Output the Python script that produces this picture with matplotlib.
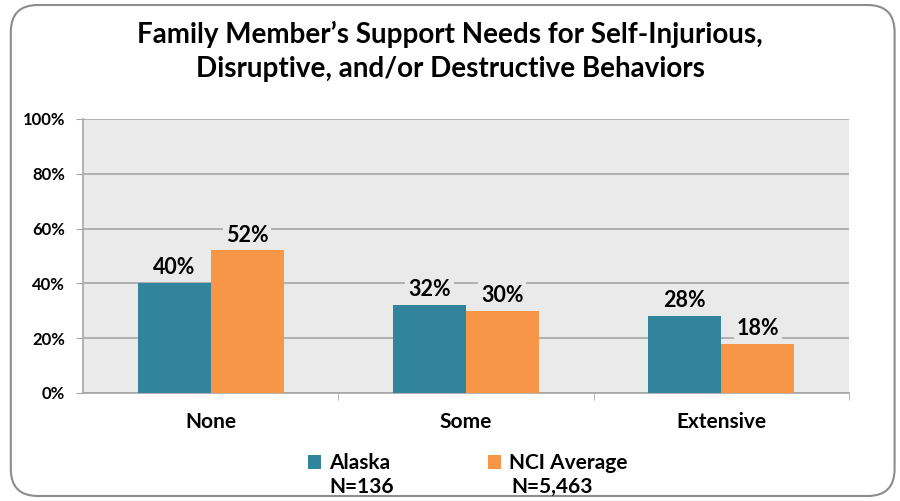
import matplotlib
matplotlib.use('Agg')
import matplotlib.pyplot as plt
from matplotlib.patches import FancyBboxPatch
import numpy as np

categories = ['None', 'Some', 'Extensive']
alaska = [40, 32, 28]
nci = [52, 30, 18]
series_names = ['Alaska', 'NCI Average']
series_n = ['N=136', 'N=5,463']
yticks = [0, 20, 40, 60, 80, 100]

teal = '#31849B'
orange = '#F79646'

plt.rcParams['font.family'] = ['Lato', 'DejaVu Sans']
plt.rcParams['font.weight'] = 'bold'

fig = plt.figure(figsize=(9, 5.01), dpi=100)
ax = fig.add_axes([0.0922, 0.2156, 0.851, 0.547])

# rounded outer frame
frame = FancyBboxPatch((0.012, 0.01), 0.982, 0.98, boxstyle='round,pad=0,rounding_size=0.03',
                       transform=fig.transFigure, facecolor='none', edgecolor='#8C8C8C',
                       linewidth=1.5, mutation_aspect=900/501)
fig.patches.append(frame)

x = np.arange(len(categories))
w = 0.286
b1 = ax.bar(x - w/2, alaska, w, color=teal, label=series_names[0], zorder=3)
b2 = ax.bar(x + w/2, nci, w, color=orange, label=series_names[1], zorder=3)

ax.set_facecolor('#EAEAEA')
ax.set_xlim(-0.5, 2.5)
ax.set_ylim(0, 100)
ax.set_yticks(yticks)
ax.set_yticklabels([f'{v}%' for v in yticks], fontsize=12, fontweight='bold')
ax.yaxis.grid(True, color='#A6A6A6', linewidth=1.2, zorder=0)
ax.set_axisbelow(True)
ax.set_xticks(x)
ax.set_xticklabels(categories, fontsize=15, fontweight='bold')
ax.tick_params(axis='x', length=0, pad=14)
ax.set_xticks([0.5, 1.5, 2.5], minor=True)
ax.tick_params(axis='x', which='minor', length=5, color='#A6A6A6')
ax.tick_params(axis='y', length=5, color='#A6A6A6', pad=8)
for s in ['top', 'right']:
    ax.spines[s].set_visible(False)
for s in ['left', 'bottom']:
    ax.spines[s].set_color('#A6A6A6')
    ax.spines[s].set_linewidth(1.2)

for bars, vals in [(b1, alaska), (b2, nci)]:
    for r, v in zip(bars, vals):
        ax.text(r.get_x() + r.get_width()/2, v + 1.8, f'{v}%', ha='center', va='bottom',
                fontsize=15.5, fontweight='bold',
                bbox=dict(facecolor='#EAEAEA', edgecolor='none', pad=2), zorder=4)

fig.text(0.5, 0.958, "Family Member\u2019s Support Needs for Self-Injurious,\nDisruptive, and/or Destructive Behaviors",
         ha='center', va='top', fontsize=20, fontweight='bold', linespacing=1.38)

leg = fig.legend(handles=[b1, b2], loc='center', bbox_to_anchor=(0.52, 0.075), ncol=2,
                 frameon=False, fontsize=15, handlelength=0.6, handleheight=0.6,
                 columnspacing=4.7, handletextpad=0.4)
fig.text(0.402, 0.028, series_n[0], ha='center', va='center', fontsize=15, fontweight='bold')
fig.text(0.614, 0.028, series_n[1], ha='center', va='center', fontsize=15, fontweight='bold')

fig.savefig('out.png', dpi=100)
